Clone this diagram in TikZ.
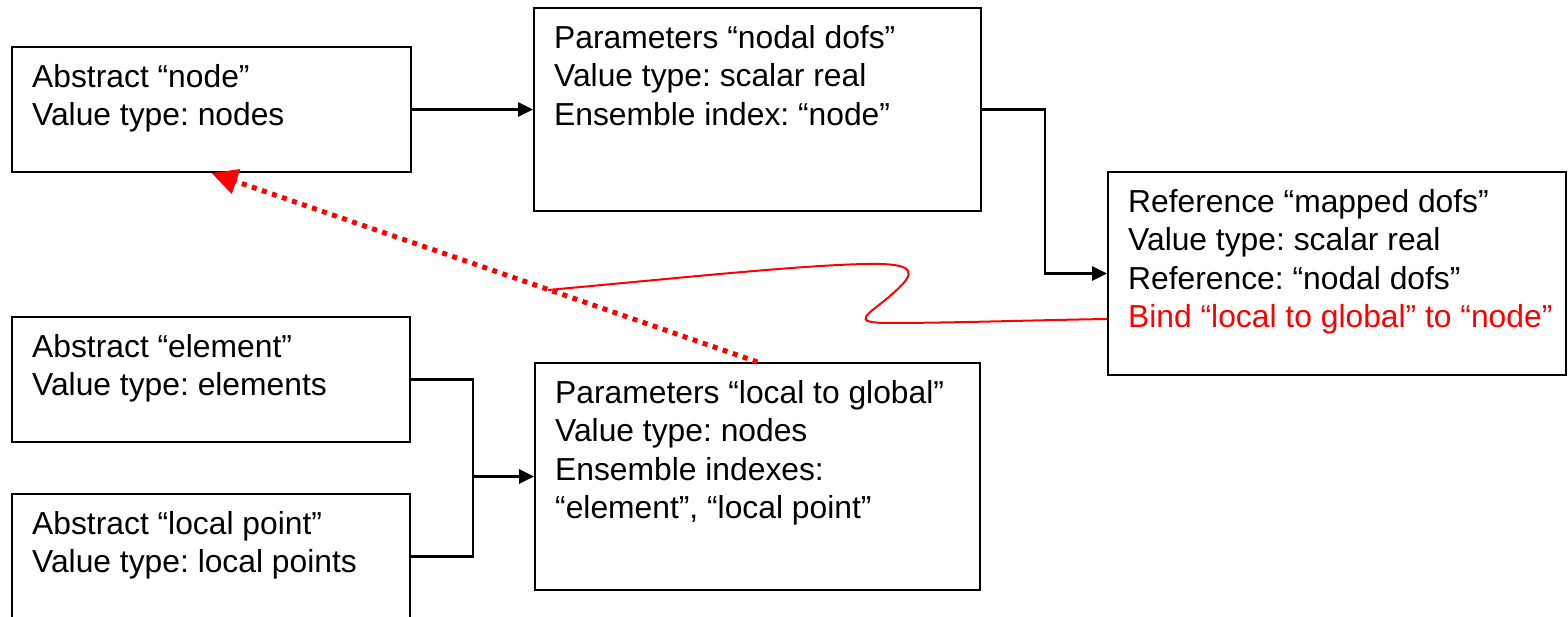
\documentclass[tikz,border=0pt]{standalone}
\usepackage{fontspec}
\setmainfont{Liberation Sans}
\usetikzlibrary{arrows.meta}
\frenchspacing
\newcommand\diagfont{\fontsize{31.8}{38.5}\selectfont\frenchspacing}
\newcommand\firststrut{\rule{0pt}{25pt}}
\begin{document}
\begin{tikzpicture}[x=1pt,y=-1pt,
  box/.style n args={2}{draw=black,line width=2pt,minimum width=#1,minimum height=#2,inner sep=0pt},
  txt/.style={anchor=north west,inner sep=0pt,align=left,font=\diagfont},
  conn/.style={draw=black,line width=2.6pt,-{Triangle[length=15pt,width=14pt]}},
  plain/.style={draw=black,line width=2.6pt},
  reddot/.style={draw=red,line width=5pt,dash pattern=on 5pt off 5.6pt,-{Triangle[length=26pt,width=25pt]}},
  redline/.style={draw=red,line width=2pt}
]
\useasboundingbox (0,0) rectangle (1568,617);

% boxes
\node[box={399pt}{125pt}] (nodebox) at (211.5,109.5) {};
\node[box={447pt}{203pt}] (nodal) at (757.5,109.5) {};
\node[box={458pt}{203pt}] (mapped) at (1337,273.5) {};
\node[box={398pt}{125pt}] (element) at (211,379.5) {};
\node[box={398pt}{125pt}] (localpt) at (211,556.5) {};
\node[box={445pt}{227pt}] (l2g) at (757.5,476.5) {};

% texts
\node[txt] (t1) at ([xshift=21pt,yshift=-16pt]nodebox.north west)
  {\firststrut Abstract “node”\\Value type: nodes};
\node[txt] (t2) at ([xshift=21pt,yshift=-16pt]nodal.north west)
  {\firststrut Parameters “nodal dofs”\\Value type: scalar real\\Ensemble index: “node”};
\node[txt] (t3) at ([xshift=21pt,yshift=-16pt]mapped.north west)
  {\firststrut Reference “mapped dofs”\\Value type: scalar real\\Reference: “nodal dofs”\\\textcolor{red}{Bind “local to global” to “node”}};
\node[txt] (t4) at ([xshift=21pt,yshift=-16pt]element.north west)
  {\firststrut Abstract “element”\\Value type: elements};
\node[txt] (t5) at ([xshift=21pt,yshift=-16pt]localpt.north west)
  {\firststrut Abstract “local point”\\Value type: local points};
\node[txt] (t6) at ([xshift=21pt,yshift=-16pt]l2g.north west)
  {\firststrut Parameters “local to global”\\Value type: nodes\\Ensemble indexes:\\“element”, “local point”};

% connectors
\draw[conn] (nodebox.east) -- (nodal.west);
\draw[conn] (nodal.east) -- ++(63,0) |- (mapped.west);
\coordinate (bus) at (473,476.5);
\draw[plain] (element.east) -| (bus);
\draw[plain] (localpt.east) -| (bus);
\draw[conn] (bus) -- (l2g.west);

% red dotted arrow
\draw[reddot] (l2g.north) -- (nodebox.south);

% red binding curve
\coordinate (cs) at (548,290);
\draw[redline] (cs) .. controls (680,278) and (820,263) .. (880,264)
  .. controls (925,265) and (908,280) .. (890,296)
  .. controls (868,315) and (848,323) .. (890,323)
  .. controls (950,323) and (1040,320) .. ([yshift=-45.5pt]mapped.west);
\end{tikzpicture}
\end{document}
